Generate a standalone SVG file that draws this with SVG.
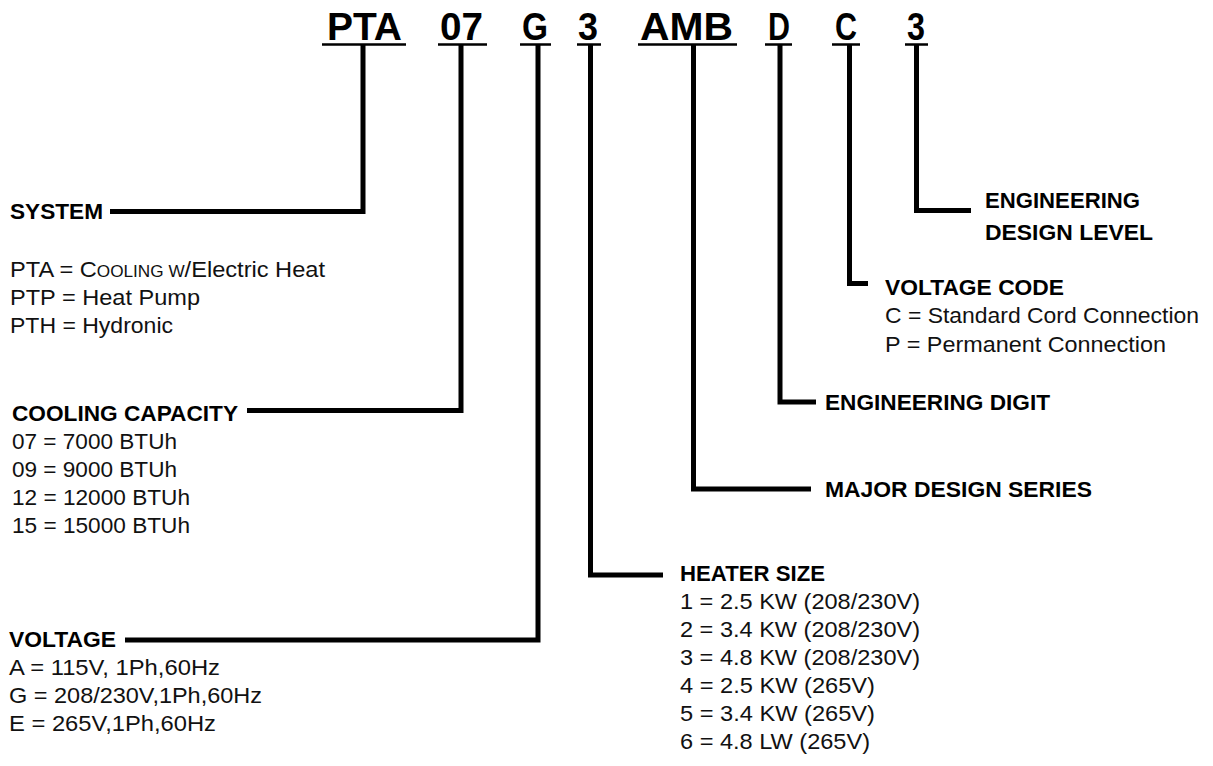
<svg xmlns="http://www.w3.org/2000/svg" width="1213" height="766" viewBox="0 0 1213 766">
<style>
.hd{font-family:"Liberation Sans",Arial,sans-serif;font-weight:bold;font-size:39px;fill:#000}
.lb{font-family:"Liberation Sans",Arial,sans-serif;font-weight:bold;font-size:22px;fill:#000}
.tx{font-family:"Liberation Sans",Arial,sans-serif;font-size:22px;fill:#111}
.sc{font-size:16px}
.ul{stroke:#000;stroke-width:2.5;fill:none}
.cn{stroke:#000;stroke-width:5;fill:none;stroke-linejoin:miter;stroke-linecap:butt}
</style>
<rect width="1213" height="766" fill="#fff"/>
<g id="code">
<text class="hd" x="327" y="40" textLength="75" lengthAdjust="spacingAndGlyphs">PTA</text>
<text class="hd" x="440" y="40" textLength="43" lengthAdjust="spacingAndGlyphs">07</text>
<text class="hd" x="522" y="40" textLength="26" lengthAdjust="spacingAndGlyphs">G</text>
<text class="hd" x="578" y="40" textLength="20" lengthAdjust="spacingAndGlyphs">3</text>
<text class="hd" x="640" y="40" textLength="93" lengthAdjust="spacingAndGlyphs">AMB</text>
<text class="hd" x="768" y="40" textLength="22" lengthAdjust="spacingAndGlyphs">D</text>
<text class="hd" x="835" y="40" textLength="22" lengthAdjust="spacingAndGlyphs">C</text>
<text class="hd" x="907" y="40" textLength="18" lengthAdjust="spacingAndGlyphs">3</text>
<path class="ul" d="M322,44.5H406M438,44.5H487M520,44.5H551M577,44.5H601M638,44.5H737M765,44.5H792M832,44.5H860M905,44.5H928"/>
</g>
<g id="connectors">
<path class="cn" d="M363,44V211.5H110"/>
<path class="cn" d="M461,44V410.5H247"/>
<path class="cn" d="M538,44V640H125"/>
<path class="cn" d="M590.5,44V575H663"/>
<path class="cn" d="M693.5,44V489H811"/>
<path class="cn" d="M780,44V402H816"/>
<path class="cn" d="M849.5,44V283.5H868"/>
<path class="cn" d="M916.5,44V210.5H971"/>
</g>
<g id="system">
<text class="lb" x="10" y="219" textLength="93" lengthAdjust="spacingAndGlyphs">SYSTEM</text>
<text class="tx" x="10" y="277" textLength="315" lengthAdjust="spacingAndGlyphs">PTA = C<tspan class="sc">OOLING W</tspan>/Electric Heat</text>
<text class="tx" x="10" y="305" textLength="190" lengthAdjust="spacingAndGlyphs">PTP = Heat Pump</text>
<text class="tx" x="10" y="333" textLength="163" lengthAdjust="spacingAndGlyphs">PTH = Hydronic</text>
</g>
<g id="cooling-capacity">
<text class="lb" x="12" y="421" textLength="226" lengthAdjust="spacingAndGlyphs">COOLING CAPACITY</text>
<text class="tx" x="12" y="449" textLength="165" lengthAdjust="spacingAndGlyphs">07 = 7000 BTUh</text>
<text class="tx" x="12" y="477" textLength="165" lengthAdjust="spacingAndGlyphs">09 = 9000 BTUh</text>
<text class="tx" x="12" y="505" textLength="178" lengthAdjust="spacingAndGlyphs">12 = 12000 BTUh</text>
<text class="tx" x="12" y="533" textLength="178" lengthAdjust="spacingAndGlyphs">15 = 15000 BTUh</text>
</g>
<g id="voltage">
<text class="lb" x="9" y="647" textLength="107" lengthAdjust="spacingAndGlyphs">VOLTAGE</text>
<text class="tx" x="9" y="675" textLength="211" lengthAdjust="spacingAndGlyphs">A = 115V, 1Ph,60Hz</text>
<text class="tx" x="9" y="703" textLength="253" lengthAdjust="spacingAndGlyphs">G = 208/230V,1Ph,60Hz</text>
<text class="tx" x="9" y="731" textLength="207" lengthAdjust="spacingAndGlyphs">E = 265V,1Ph,60Hz</text>
</g>
<g id="heater-size">
<text class="lb" x="680" y="581" textLength="145" lengthAdjust="spacingAndGlyphs">HEATER SIZE</text>
<text class="tx" x="680" y="609" textLength="240" lengthAdjust="spacingAndGlyphs">1 = 2.5 KW (208/230V)</text>
<text class="tx" x="680" y="637" textLength="240" lengthAdjust="spacingAndGlyphs">2 = 3.4 KW (208/230V)</text>
<text class="tx" x="680" y="665" textLength="240" lengthAdjust="spacingAndGlyphs">3 = 4.8 KW (208/230V)</text>
<text class="tx" x="680" y="693" textLength="195" lengthAdjust="spacingAndGlyphs">4 = 2.5 KW (265V)</text>
<text class="tx" x="680" y="721" textLength="195" lengthAdjust="spacingAndGlyphs">5 = 3.4 KW (265V)</text>
<text class="tx" x="680" y="749" textLength="190" lengthAdjust="spacingAndGlyphs">6 = 4.8 LW (265V)</text>
</g>
<g id="major-design-series">
<text class="lb" x="825" y="497" textLength="267" lengthAdjust="spacingAndGlyphs">MAJOR DESIGN SERIES</text>
</g>
<g id="engineering-digit">
<text class="lb" x="825" y="410" textLength="225" lengthAdjust="spacingAndGlyphs">ENGINEERING DIGIT</text>
</g>
<g id="voltage-code">
<text class="lb" x="885" y="295" textLength="179" lengthAdjust="spacingAndGlyphs">VOLTAGE CODE</text>
<text class="tx" x="885" y="323" textLength="314" lengthAdjust="spacingAndGlyphs">C = Standard Cord Connection</text>
<text class="tx" x="885" y="352" textLength="281" lengthAdjust="spacingAndGlyphs">P = Permanent Connection</text>
</g>
<g id="engineering-design-level">
<text class="lb" x="985" y="208" textLength="155" lengthAdjust="spacingAndGlyphs">ENGINEERING</text>
<text class="lb" x="985" y="240" textLength="168" lengthAdjust="spacingAndGlyphs">DESIGN LEVEL</text>
</g>
</svg>
